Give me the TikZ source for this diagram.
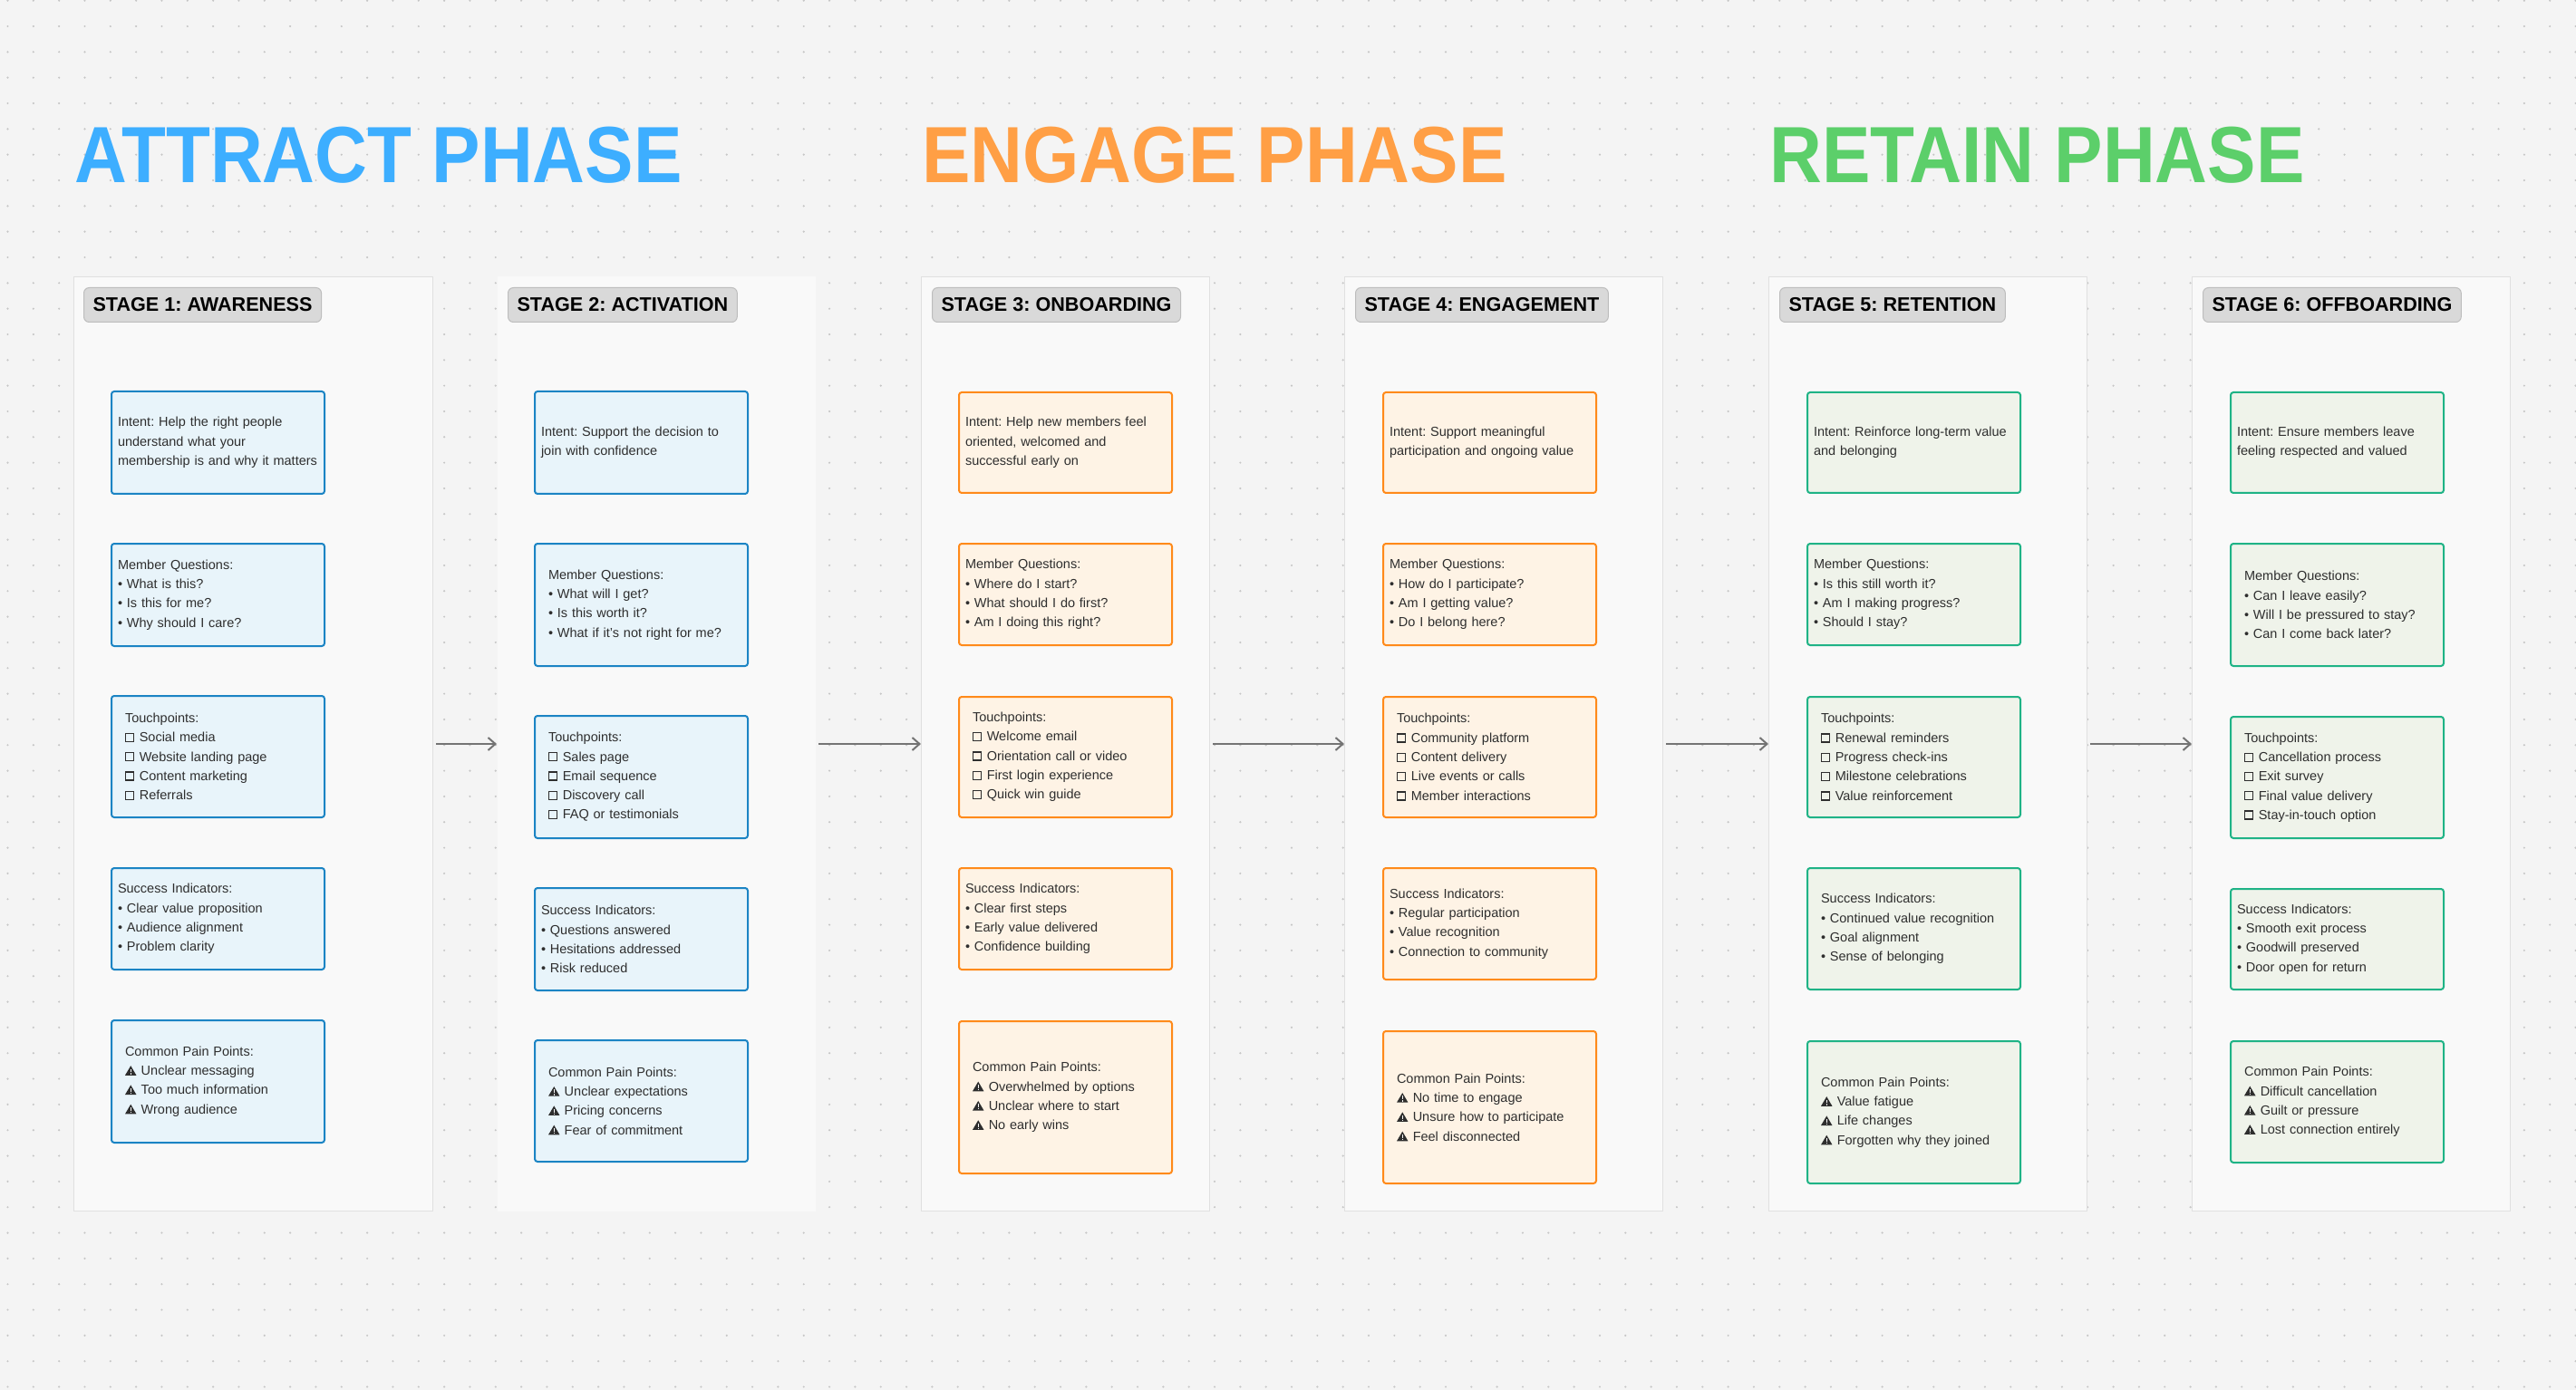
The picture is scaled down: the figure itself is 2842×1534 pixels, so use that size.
\documentclass[tikz,border=0pt]{standalone}
\usepackage{fontspec}
\setmainfont{Liberation Sans}
\newfontfamily\titlefont[FakeStretch=0.91]{Liberation Sans Bold}
\usetikzlibrary{arrows.meta, positioning}
\definecolor{canvas}{HTML}{F4F4F4}
\definecolor{dotgray}{HTML}{C6C6C6}
\definecolor{panelfill}{HTML}{F9F9F9}
\definecolor{panelline}{HTML}{E0E0E0}
\definecolor{tagfill}{HTML}{D9D9D9}
\definecolor{tagline}{HTML}{BDBDBD}
\definecolor{cardtext}{HTML}{2E2E2E}
\definecolor{arrowgray}{HTML}{747474}
\definecolor{attracttitle}{HTML}{3DAEFF}
\definecolor{engagetitle}{HTML}{FF9F45}
\definecolor{retaintitle}{HTML}{5CCF6A}
\definecolor{attractline}{HTML}{1B84C4}
\definecolor{attractfill}{HTML}{E8F4FA}
\definecolor{engageline}{HTML}{FF8A1A}
\definecolor{engagefill}{HTML}{FEF3E5}
\definecolor{retainline}{HTML}{1FB386}
\definecolor{retainfill}{HTML}{EFF3EA}
% casella di spunta e segnale di pericolo
\newcommand{\tpbox}{\tikz[baseline=0pt,sharp corners]\draw[line width=0.085em] (0.04em,0.02em) rectangle (0.66em,0.64em);\hspace{0.05em}}
\newcommand{\painmark}{\tikz[baseline=0pt,sharp corners]{\fill[cardtext] (0,-0.01em) -- (0.86em,-0.01em) -- (0.43em,0.72em) -- cycle;
  \fill[white] (0.39em,0.22em) rectangle (0.47em,0.49em);
  \fill[white] (0.39em,0.07em) rectangle (0.47em,0.15em);}\hspace{0.03em}}
\tikzset{
  >=Straight Barb,
  % titoli delle fasi
  phase title/.style={anchor=base west,inner sep=0,font=\titlefont\fontsize{44}{44}\selectfont},
  % colonne e etichette
  stage panel/.style={draw=panelline,fill=panelfill,line width=0.5pt,anchor=north west,inner sep=0,minimum height=515.5pt},
  stage tag/.style={draw=tagline,fill=tagfill,line width=0.5pt,rounded corners=3pt,anchor=north west,minimum height=19pt,inner xsep=5pt,inner ysep=0,text=black,font=\bfseries\fontsize{10.8}{12}\selectfont},
  % schede
  card/.style={draw=#1line,fill=#1fill,line width=1pt,rounded corners=1.5pt,anchor=north west,minimum width=117.5pt,text width=110.5pt,inner xsep=3.5pt,inner ysep=0,align=left,text=cardtext,font=\fontsize{7.25}{10.65}\selectfont},
  card in/.style={card=#1,text width=102.5pt,inner xsep=7.5pt},
  flow/.style={->,>={Straight Barb[length=4pt,width=7pt]},arrowgray,line width=1pt,shorten <=1.5pt}
}

\begin{document}
\frenchspacing
\begin{tikzpicture}[x=0.5pt,y=-0.5pt]
\fill[canvas] (0,0) rectangle (2842,1534);
\useasboundingbox (0,0) rectangle (2842,1534);
\foreach \x in {8.5,36.83,...,2842}
  \foreach \y in {0.7,29.03,...,1534}
    \fill[dotgray] (\x,\y) circle (0.6pt);

% Titoli
\node[phase title,text=attracttitle] (attract) at (82,202) {ATTRACT PHASE};
\node[phase title,text=engagetitle] (engage) at (1017,202) {ENGAGE PHASE};
\node[phase title,text=retaintitle] (retain) at (1952,202) {RETAIN PHASE};

% Colonne
\node[stage panel,minimum width=198pt] (p1) at (81,305) {};
\node[stage panel,minimum width=175.5pt,draw=none] (p2) at (548,305) {};
\node[stage panel,minimum width=159pt] (p3) at (1016,305) {};
\node[stage panel,minimum width=175.5pt] (p4) at (1483,305) {};
\node[stage panel,minimum width=175.5pt] (p5) at (1951,305) {};
\node[stage panel,minimum width=175.5pt] (p6) at (2418,305) {};

\node[stage tag] (t1) at ([shift={(11,12)}]p1.north west) {STAGE 1: AWARENESS};
\node[stage tag] (t2) at ([shift={(12,12)}]p2.north west) {STAGE 2: ACTIVATION};
\node[stage tag] (t3) at ([shift={(12,12)}]p3.north west) {STAGE 3: ONBOARDING};
\node[stage tag] (t4) at ([shift={(12,12)}]p4.north west) {STAGE 4: ENGAGEMENT};
\node[stage tag] (t5) at ([shift={(12,12)}]p5.north west) {STAGE 5: RETENTION};
\node[stage tag] (t6) at ([shift={(12,12)}]p6.north west) {STAGE 6: OFFBOARDING};

\draw[flow] (p1) -- (p2);
\draw[flow] (p2) -- (p3);
\draw[flow] (p3) -- (p4);
\draw[flow] (p4) -- (p5);
\draw[flow] (p5) -- (p6);

% Stage 1
\node[card=attract,minimum height=56.5pt] (a1) at (122,431) {Intent: Help the right people\\understand what your\\membership is and why it matters};
\node[card=attract,minimum height=56.5pt] (a2) at (122,599) {Member Questions:\\• What is this?\\• Is this for me?\\• Why should I care?};
\node[card in=attract,minimum height=67pt] (a3) at (122,767) {Touchpoints:\\\tpbox{} Social media\\\tpbox{} Website landing page\\\tpbox{} Content marketing\\\tpbox{} Referrals};
\node[card=attract,minimum height=56pt] (a4) at (122,957) {Success Indicators:\\• Clear value proposition\\• Audience alignment\\• Problem clarity};
\node[card in=attract,minimum height=67.5pt] (a5) at (122,1125) {Common Pain Points:\\\painmark{} Unclear messaging\\\painmark{} Too much information\\\painmark{} Wrong audience};

% Stage 2
\node[card=attract,minimum height=56.5pt] (b1) at (589,431) {Intent: Support the decision to\\join with confidence};
\node[card in=attract,minimum height=67.5pt] (b2) at (589,599) {Member Questions:\\• What will I get?\\• Is this worth it?\\• What if it's not right for me?};
\node[card in=attract,minimum height=67.5pt] (b3) at (589,789) {Touchpoints:\\\tpbox{} Sales page\\\tpbox{} Email sequence\\\tpbox{} Discovery call\\\tpbox{} FAQ or testimonials};
\node[card=attract,minimum height=56.5pt] (b4) at (589,979) {Success Indicators:\\• Questions answered\\• Hesitations addressed\\• Risk reduced};
\node[card in=attract,minimum height=67pt] (b5) at (589,1147) {Common Pain Points:\\\painmark{} Unclear expectations\\\painmark{} Pricing concerns\\\painmark{} Fear of commitment};

% Stage 3
\node[card=engage,minimum height=55.5pt] (c1) at (1057,432) {Intent: Help new members feel\\oriented, welcomed and\\successful early on};
\node[card=engage,minimum height=56pt] (c2) at (1057,599) {Member Questions:\\• Where do I start?\\• What should I do first?\\• Am I doing this right?};
\node[card in=engage,minimum height=66.5pt] (c3) at (1057,768) {Touchpoints:\\\tpbox{} Welcome email\\\tpbox{} Orientation call or video\\\tpbox{} First login experience\\\tpbox{} Quick win guide};
\node[card=engage,minimum height=56pt] (c4) at (1057,957) {Success Indicators:\\• Clear first steps\\• Early value delivered\\• Confidence building};
\node[card in=engage,minimum height=84pt] (c5) at (1057,1126) {Common Pain Points:\\\painmark{} Overwhelmed by options\\\painmark{} Unclear where to start\\\painmark{} No early wins};

% Stage 4
\node[card=engage,minimum height=55.5pt] (d1) at (1525,432) {Intent: Support meaningful\\participation and ongoing value};
\node[card=engage,minimum height=56pt] (d2) at (1525,599) {Member Questions:\\• How do I participate?\\• Am I getting value?\\• Do I belong here?};
\node[card in=engage,minimum height=66.5pt] (d3) at (1525,768) {Touchpoints:\\\tpbox{} Community platform\\\tpbox{} Content delivery\\\tpbox{} Live events or calls\\\tpbox{} Member interactions};
\node[card=engage,minimum height=61.5pt] (d4) at (1525,957) {Success Indicators:\\• Regular participation\\• Value recognition\\• Connection to community};
\node[card in=engage,minimum height=84pt] (d5) at (1525,1137) {Common Pain Points:\\\painmark{} No time to engage\\\painmark{} Unsure how to participate\\\painmark{} Feel disconnected};

% Stage 5
\node[card=retain,minimum height=55.5pt] (e1) at (1993,432) {Intent: Reinforce long-term value\\and belonging};
\node[card=retain,minimum height=56pt] (e2) at (1993,599) {Member Questions:\\• Is this still worth it?\\• Am I making progress?\\• Should I stay?};
\node[card in=retain,minimum height=66.5pt] (e3) at (1993,768) {Touchpoints:\\\tpbox{} Renewal reminders\\\tpbox{} Progress check-ins\\\tpbox{} Milestone celebrations\\\tpbox{} Value reinforcement};
\node[card in=retain,minimum height=67pt] (e4) at (1993,957) {Success Indicators:\\• Continued value recognition\\• Goal alignment\\• Sense of belonging};
\node[card in=retain,minimum height=78.5pt] (e5) at (1993,1148) {Common Pain Points:\\\painmark{} Value fatigue\\\painmark{} Life changes\\\painmark{} Forgotten why they joined};

% Stage 6
\node[card=retain,minimum height=55.5pt] (f1) at (2460,432) {Intent: Ensure members leave\\feeling respected and valued};
\node[card in=retain,minimum height=67.5pt] (f2) at (2460,599) {Member Questions:\\• Can I leave easily?\\• Will I be pressured to stay?\\• Can I come back later?};
\node[card in=retain,minimum height=67pt] (f3) at (2460,790) {Touchpoints:\\\tpbox{} Cancellation process\\\tpbox{} Exit survey\\\tpbox{} Final value delivery\\\tpbox{} Stay-in-touch option};
\node[card=retain,minimum height=55.5pt] (f4) at (2460,980) {Success Indicators:\\• Smooth exit process\\• Goodwill preserved\\• Door open for return};
\node[card in=retain,minimum height=67pt] (f5) at (2460,1148) {Common Pain Points:\\\painmark{} Difficult cancellation\\\painmark{} Guilt or pressure\\\painmark{} Lost connection entirely};
\end{tikzpicture}
\end{document}
